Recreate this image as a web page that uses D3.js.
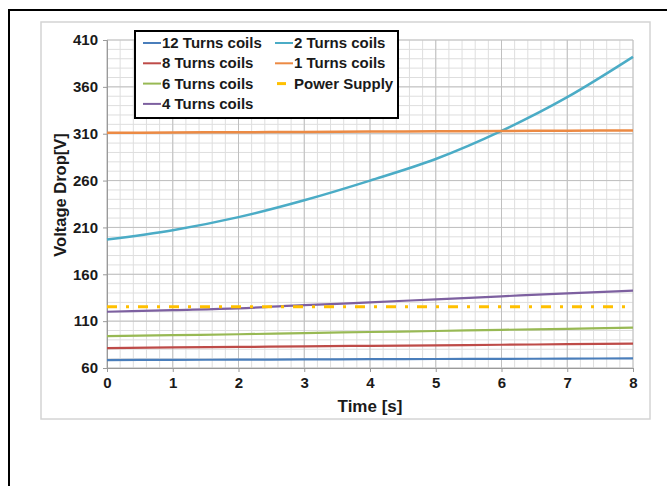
<!DOCTYPE html>
<html>
  <head>
    <title>Voltage Drop vs Time</title>
    <script src="https://d3js.org/d3.v7.min.js"></script>
    <style>
      body { margin: 0; background: #fff; }
      svg { font-family: "Liberation Sans", Arial, sans-serif; font-weight: bold; }
      .tick text { font-size: 15px; fill: #1a1a1a; }
      .line { fill: none; }
    </style>
  </head>
  <body>
    <svg width="667" height="486"></svg>
    <script>
      const times = [0, 1, 2, 3, 4, 5, 6, 7, 8];

      const turns12 = [68.5, 68.7, 68.9, 69.1, 69.4, 69.6, 69.8, 70.0, 70.3];
      const turns8 = [81.3, 82.0, 82.5, 83.0, 83.7, 84.2, 84.8, 85.4, 86.0];
      const turns6 = [94.0, 95.0, 96.0, 97.3, 98.4, 99.5, 100.7, 101.8, 103.0];
      const turns4 = [120.0, 121.8, 123.7, 127.0, 130.0, 133.3, 136.5, 139.7, 142.5];
      const turns2 = [197, 207, 221, 239, 260, 283, 313, 349, 392];
      const turns1 = [311.0, 311.3, 311.6, 311.9, 312.3, 312.6, 312.9, 313.2, 313.5];
      const supply = [125.4, 125.4, 125.4, 125.4, 125.4, 125.4, 125.4, 125.4, 125.4];

      const yTicks = [60, 110, 160, 210, 260, 310, 360, 410];

      const series = [
        { name: "12 Turns coils", values: turns12, color: "#4a7ebb", width: 2.2 },
        { name: "8 Turns coils", values: turns8, color: "#be4b48", width: 2.2 },
        { name: "6 Turns coils", values: turns6, color: "#98b954", width: 2.2 },
        { name: "4 Turns coils", values: turns4, color: "#7d60a0", width: 2.2 },
        { name: "2 Turns coils", values: turns2, color: "#4bacc6", width: 2.5 },
        { name: "1 Turns coils", values: turns1, color: "#ec8a44", width: 2.5 },
        { name: "Power Supply", values: supply, color: "#ffc000", width: 3, dash: "10,9,3,9" }
      ];

      const svg = d3.select("svg");

      // outer frame (only left and top visible)
      svg.append("rect")
        .attr("x", 9).attr("y", 10)
        .attr("width", 700).attr("height", 500)
        .attr("fill", "none").attr("stroke", "#000").attr("stroke-width", 2);

      // chart area box
      svg.append("rect")
        .attr("x", 41).attr("y", 22)
        .attr("width", 609).attr("height", 397)
        .attr("fill", "#fff").attr("stroke", "#d4d4d4").attr("stroke-width", 1.5);

      const x = d3.scaleLinear().domain([0, 8]).range([107, 633]);
      const y = d3.scaleLinear().domain([60, 410]).range([368, 40]);

      const grid = svg.append("g");

      // minor grid
      grid.selectAll(".vminor")
        .data(d3.range(0, 8.001, 0.2))
        .join("line")
        .attr("x1", d => x(d)).attr("x2", d => x(d))
        .attr("y1", y(60)).attr("y2", y(410))
        .attr("stroke", "#dedede").attr("stroke-width", 1);

      grid.selectAll(".hminor")
        .data(d3.range(60, 410.001, 10))
        .join("line")
        .attr("x1", x(0)).attr("x2", x(8))
        .attr("y1", d => y(d)).attr("y2", d => y(d))
        .attr("stroke", "#dedede").attr("stroke-width", 1);

      // major grid
      svg.append("g")
        .selectAll("line")
        .data(times)
        .join("line")
        .attr("x1", d => x(d)).attr("x2", d => x(d))
        .attr("y1", y(60)).attr("y2", y(410))
        .attr("stroke", "#c0c0c0").attr("stroke-width", 1);

      svg.append("g")
        .selectAll("line")
        .data(yTicks)
        .join("line")
        .attr("x1", x(0)).attr("x2", x(8))
        .attr("y1", d => y(d)).attr("y2", d => y(d))
        .attr("stroke", "#c0c0c0").attr("stroke-width", 1);

      // axes
      const xAxis = svg.append("g")
        .attr("transform", `translate(0,${y(60)})`)
        .call(d3.axisBottom(x).tickValues(times).tickSize(4).tickPadding(5).tickFormat(d3.format("d")));

      const yAxis = svg.append("g")
        .attr("transform", `translate(${x(0)},0)`)
        .call(d3.axisLeft(y).tickValues(yTicks).tickSize(4).tickPadding(5));

      [xAxis, yAxis].forEach(a => {
        a.select(".domain").attr("stroke", "#9a9a9a");
        a.selectAll(".tick line").attr("stroke", "#9a9a9a");
        a.attr("font-family", null).attr("font-size", null);
      });

      // series
      const line = d3.line()
        .x((d, i) => x(times[i]))
        .y(d => y(d))
        .curve(d3.curveMonotoneX);

      svg.append("g")
        .selectAll("path")
        .data(series)
        .join("path")
        .attr("class", "line")
        .attr("d", d => line(d.values))
        .attr("stroke", d => d.color)
        .attr("stroke-width", d => d.width)
        .attr("stroke-dasharray", d => d.dash || null);

      // axis titles
      svg.append("text")
        .attr("x", 370).attr("y", 412)
        .attr("text-anchor", "middle")
        .style("font-size", "17px")
        .attr("fill", "#1a1a1a")
        .text("Time [s]");

      svg.append("text")
        .attr("transform", "rotate(-90)")
        .attr("x", -195).attr("y", 66)
        .attr("text-anchor", "middle")
        .style("font-size", "16.5px")
        .attr("fill", "#1a1a1a")
        .text("Voltage Drop[V]");

      // legend
      const legend = svg.append("g");
      legend.append("rect")
        .attr("x", 135).attr("y", 31)
        .attr("width", 263).attr("height", 87)
        .attr("fill", "#fff").attr("stroke", "#000").attr("stroke-width", 2);

      const item = legend.selectAll(".item")
        .data(series)
        .join("g")
        .attr("transform", (d, i) => {
          const col = i < 4 ? 0 : 1;
          const row = i < 4 ? i : i - 4;
          return `translate(${col ? 275 : 143},${43 + row * 20.3})`;
        });

      item.append("line")
        .attr("x1", d => d.dash ? 2 : 0)
        .attr("x2", d => d.dash ? 11 : 18)
        .attr("y1", 0).attr("y2", 0)
        .attr("stroke", d => d.color)
        .attr("stroke-width", d => d.dash ? 3 : 2);

      item.append("text")
        .attr("x", 19)
        .attr("y", 5)
        .style("font-size", "15px")
        .attr("fill", "#1a1a1a")
        .text(d => d.name);
    </script>
  </body>
</html>
